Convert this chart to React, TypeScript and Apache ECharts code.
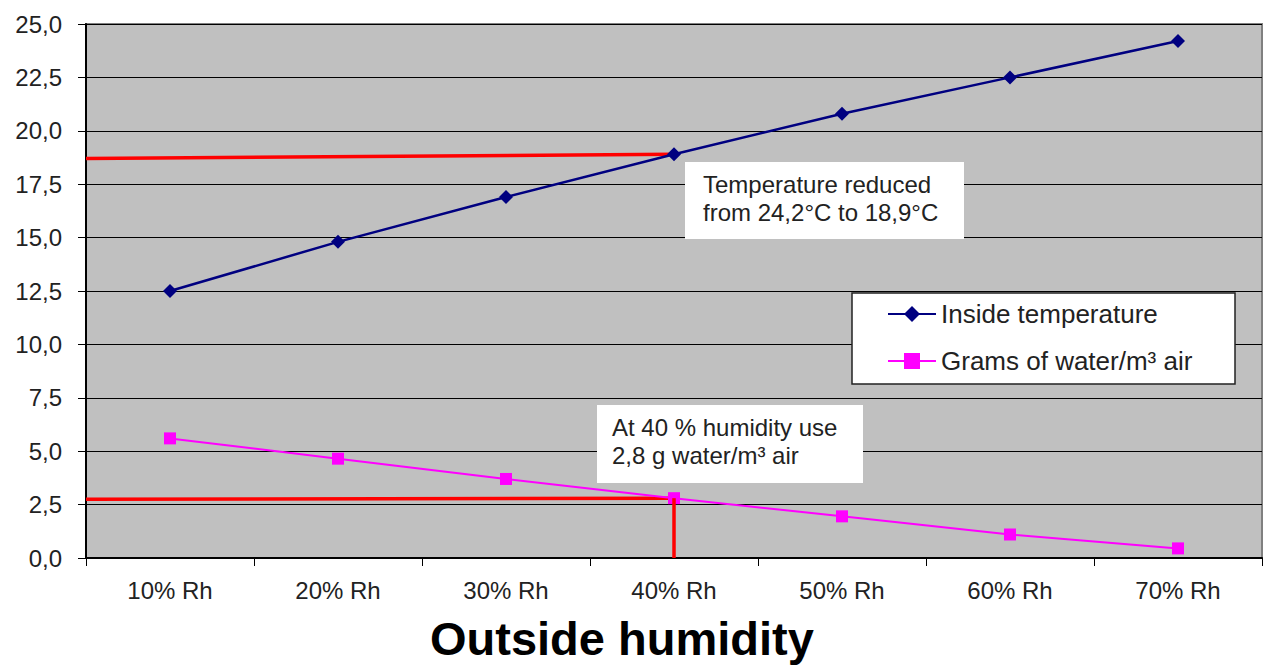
import React, { useEffect, useRef } from "react";
import * as echarts from "echarts";

const categories = ["10% Rh", "20% Rh", "30% Rh", "40% Rh", "50% Rh", "60% Rh", "70% Rh"];
const insideTemp = [12.5, 14.8, 16.9, 18.9, 20.8, 22.5, 24.2];
const waterGrams = [5.6, 4.65, 3.7, 2.8, 1.95, 1.1, 0.45];
// guide lines, x in band units (0 = left edge of plot, 3.5 = centre of "40% Rh")
const tempGuide = [[0, 18.7], [3.5, 18.9]];
const waterGuide = [[0, 2.75], [3.5, 2.8]];
const waterDrop = [[3.5, 2.8], [3.5, 0]];
const yMin = 0;
const yMax = 25;
const yStep = 2.5;

const FONT = '"Liberation Sans", Arial, sans-serif';

export default function App() {
  const ref = useRef<HTMLDivElement>(null);
  useEffect(() => {
    if (!ref.current) return;
    const chart = echarts.init(ref.current, undefined, { renderer: "svg" });
    chart.setOption({
      animation: false,
      backgroundColor: "#ffffff",
      textStyle: { fontFamily: FONT },
      title: {
        text: "Outside humidity",
        left: 430,
        top: 615,
        padding: 0,
        textStyle: { fontFamily: FONT, fontSize: 47, fontWeight: "bold", color: "#000" },
      },
      grid: {
        left: 86,
        right: 4,
        top: 24,
        bottom: 112,
        show: true,
        backgroundColor: "#c0c0c0",
        borderColor: "#808080",
        borderWidth: 2,
      },
      legend: {
        data: ["Inside temperature", "Grams of water/m³ air"],
        orient: "vertical",
        left: 887,
        top: 299,
        padding: 0,
        itemWidth: 48,
        itemHeight: 20,
        itemGap: 17,
        z: 6,
        textStyle: { fontFamily: FONT, fontSize: 26, color: "#222", lineHeight: 30 },
      },
      xAxis: [
        {
          type: "category",
          data: categories,
          boundaryGap: true,
          axisLine: { show: true, lineStyle: { color: "#000", width: 2 } },
          axisTick: { show: true, length: 8, interval: 0, lineStyle: { color: "#000", width: 1 } },
          axisLabel: { fontFamily: FONT, fontSize: 24, color: "#222", margin: 20, interval: 0 },
          splitLine: { show: false },
        },
        {
          type: "value",
          min: 0,
          max: 7,
          show: false,
          splitLine: { show: false },
        },
      ],
      yAxis: {
        type: "value",
        min: yMin,
        max: yMax,
        interval: yStep,
        axisLine: { show: true, lineStyle: { color: "#000", width: 2 } },
        axisTick: { show: true, length: 8, lineStyle: { color: "#000", width: 1 } },
        axisLabel: {
          fontFamily: FONT,
          fontSize: 24,
          color: "#222",
          margin: 24,
          formatter: (v: number) => v.toFixed(1).replace(".", ","),
        },
        splitLine: { show: true, lineStyle: { color: "#000", width: 1 } },
      },
      series: [
        {
          name: "Inside temperature",
          type: "line",
          data: insideTemp,
          symbol: "diamond",
          symbolSize: 14,
          showAllSymbol: true,
          lineStyle: { color: "#000080", width: 2.5 },
          itemStyle: { color: "#000080" },
          z: 3,
        },
        {
          name: "Grams of water/m³ air",
          type: "line",
          data: waterGrams,
          symbol: "rect",
          symbolSize: 12,
          showAllSymbol: true,
          lineStyle: { color: "#ff00ff", width: 2 },
          itemStyle: { color: "#ff00ff" },
          z: 3,
        },
        {
          name: "tempGuide",
          type: "line",
          xAxisIndex: 1,
          data: tempGuide,
          symbol: "none",
          lineStyle: { color: "#ff0000", width: 3.5 },
          z: 2,
        },
        {
          name: "waterGuide",
          type: "line",
          xAxisIndex: 1,
          data: waterGuide,
          symbol: "none",
          lineStyle: { color: "#ff0000", width: 3.5 },
          z: 2,
        },
        {
          name: "waterDrop",
          type: "line",
          xAxisIndex: 1,
          data: waterDrop,
          symbol: "none",
          lineStyle: { color: "#ff0000", width: 3.5 },
          z: 4,
        },
      ],
      graphic: [
        {
          type: "rect",
          z: 5,
          shape: { x: 685, y: 162, width: 279, height: 77 },
          style: { fill: "#ffffff", stroke: "none" },
        },
        {
          type: "text",
          z: 6,
          x: 703,
          y: 170,
          style: {
            text: "Temperature reduced\nfrom 24,2°C to 18,9°C",
            font: `24px ${FONT}`,
            fill: "#222",
            lineHeight: 28,
            verticalAlign: "top",
          },
        },
        {
          type: "rect",
          z: 5,
          shape: { x: 597, y: 405, width: 266, height: 78 },
          style: { fill: "#ffffff", stroke: "none" },
        },
        {
          type: "text",
          z: 6,
          x: 612,
          y: 413,
          style: {
            text: "At 40 % humidity use\n2,8 g water/m³ air",
            font: `24px ${FONT}`,
            fill: "#222",
            lineHeight: 28,
            verticalAlign: "top",
          },
        },
        {
          type: "rect",
          z: 5,
          shape: { x: 852, y: 293, width: 383, height: 91 },
          style: { fill: "#ffffff", stroke: "#222", lineWidth: 1.5 },
        },
      ],
    });
    return () => chart.dispose();
  }, []);
  return (
    <div
      ref={ref}
      style={{ position: "fixed", left: 0, top: 0, width: 1266, height: 670, background: "#fff" }}
    />
  );
}
